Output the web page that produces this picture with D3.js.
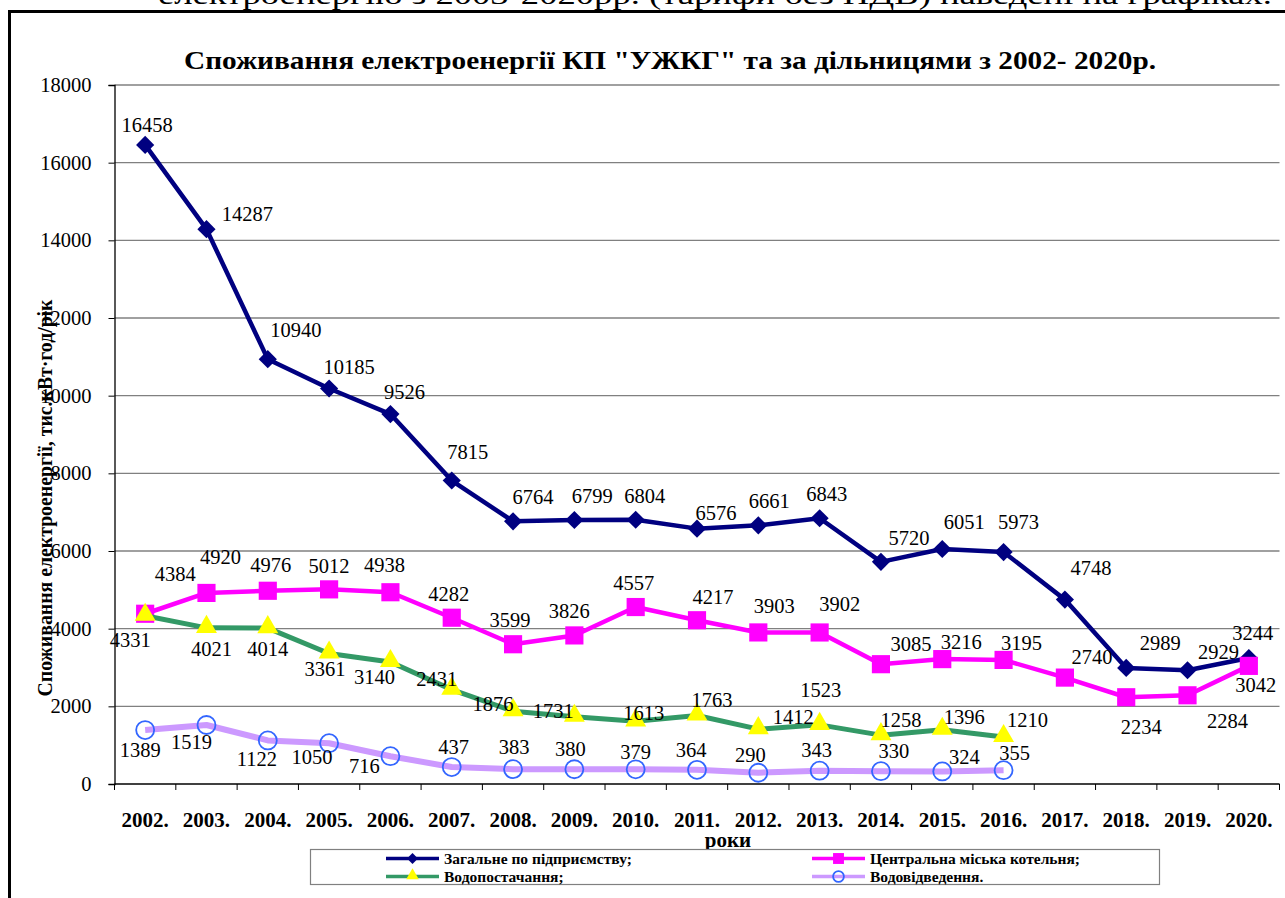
<!DOCTYPE html>
<html>
<head>
<meta charset="utf-8">
<script src="https://cdn.jsdelivr.net/npm/d3@7"></script>
<style>
  body { margin: 0; background: #fff; }
  svg { display: block; font-family: "Liberation Serif", "Times New Roman", serif; }
</style>
</head>
<body>
<svg id="chart"></svg>
<script>
//data
var years = ["2002.", "2003.", "2004.", "2005.", "2006.", "2007.", "2008.", "2009.", "2010.", "2011.",
             "2012.", "2013.", "2014.", "2015.", "2016.", "2017.", "2018.", "2019.", "2020."];
var totalValues  = [16458, 14287, 10940, 10185, 9526, 7815, 6764, 6799, 6804, 6576, 6661, 6843, 5720, 6051, 5973, 4748, 2989, 2929, 3244];
var boilerValues = [4384, 4920, 4976, 5012, 4938, 4282, 3599, 3826, 4557, 4217, 3903, 3902, 3085, 3216, 3195, 2740, 2234, 2284, 3042];
var waterValues  = [4331, 4021, 4014, 3361, 3140, 2431, 1876, 1731, 1613, 1763, 1412, 1523, 1258, 1396, 1210];
var sewerValues  = [1389, 1519, 1122, 1050, 716, 437, 383, 380, 379, 364, 290, 343, 330, 324, 355];
var yTicks = [0, 2000, 4000, 6000, 8000, 10000, 12000, 14000, 16000, 18000];
var seriesNames = ["Загальне по підприємству;", "Центральна міська котельня;", "Водопостачання;", "Водовідведення."];

var titleText = "Споживання електроенергії КП \"УЖКГ\" та за дільницями з 2002- 2020р.";
var yTitleText = "Споживання електроенергії, тис.кВт·год/рік";
var xTitleText = "роки";
var topLineText = "електроенергію з 2003-2020рр. (тарифи без ПДВ) наведені на графіках.";

//layout conf.
var svgWidth = 1285,
    svgHeight = 898,
    plot = {left: 114.5, right: 1279.5, top: 85, bottom: 784};

// where each value label sits, relative to its marker
var totalLabelOff  = [[2,-20],[41,-15],[28,-29],[20,-22],[14,-22],[16,-29],[20,-25],[18,-24],[9,-24],[19,-16],
                      [11,-25],[7,-24],[28,-24],[22,-27],[15,-30],[26,-32],[34,-25],[31,-18],[4,-25]];
var boilerLabelOff = [[30,-40],[14,-36],[3,-26],[0,-24],[-6,-27],[-3,-24],[-3,-24],[-5,-25],[-2,-24],[16,-23],
                      [16,-27],[20,-29],[30,-20],[19,-17],[18,-17],[27,-21],[15,30],[40,26],[7,19]];
var waterLabelOff  = [[-15,24],[5,21],[0,21],[-4,15],[-16,15],[-15,-11],[-20,-7],[-21,-6],[8,-9],[15,-16],
                      [35,-12],[1,-35],[20,-15],[22,-13],[24,-17]];
var sewerLabelOff  = [[-5,20],[-15,17],[-11,18],[-17,14],[-26,10],[2,-20],[1,-22],[-4,-20],[0,-17],[-6,-20],
                      [-8,-18],[-3,-21],[13,-20],[22,-15],[11,-17]];

var x = d3.scaleBand().domain(years).range([plot.left, plot.right]);
var y = d3.scaleLinear().domain([0, 18000]).range([plot.bottom, plot.top]);

var svg = d3.select("#chart")
    .attr("width", svgWidth)
    .attr("height", svgHeight);

// heading of the document above the chart, cut by the page edge
svg.append("text")
    .attr("x", 158).attr("y", 3.5)
    .attr("textLength", 1114).attr("lengthAdjust", "spacingAndGlyphs")
    .style("font-size", "28px")
    .text(topLineText);

// outer chart frame
svg.append("rect")
    .attr("x", 9.5).attr("y", 11.5)
    .attr("width", 1400).attr("height", 1000)
    .attr("fill", "none").attr("stroke", "#000").attr("stroke-width", 3);

// title
svg.append("text")
    .attr("x", 184).attr("y", 68.5)
    .attr("textLength", 972).attr("lengthAdjust", "spacingAndGlyphs")
    .style("font-size", "26px").style("font-weight", "bold")
    .text(titleText);

// grid
svg.append("g")
    .selectAll("line")
    .data(yTicks.filter(function(d){ return d > 0; }))
    .enter().append("line")
    .attr("x1", plot.left).attr("x2", plot.right)
    .attr("y1", function(d){ return y(d); }).attr("y2", function(d){ return y(d); })
    .attr("stroke", "#808080").attr("stroke-width", 1.3);

// y axis
var yAxis = svg.append("g")
    .attr("transform", "translate(" + plot.left + ",0)")
    .call(d3.axisLeft(y).tickValues(yTicks).tickSize(6).tickPadding(17).tickFormat(d3.format("d")));
yAxis.selectAll("text").style("font-size", "20.5px").style("font-family", "Liberation Serif").attr("fill", "#000");
yAxis.select(".domain").attr("stroke", "#000").attr("stroke-width", 1.3);

// x axis
var xAxis = svg.append("g")
    .attr("transform", "translate(0," + plot.bottom + ")");
xAxis.append("line")
    .attr("x1", plot.left).attr("x2", plot.right)
    .attr("stroke", "#000").attr("stroke-width", 1.5);
xAxis.selectAll(".tk")
    .data(years.concat(["end"]))
    .enter().append("line")
    .attr("class", "tk")
    .attr("x1", function(d){ return d == "end" ? plot.right : x(d); })
    .attr("x2", function(d){ return d == "end" ? plot.right : x(d); })
    .attr("y1", 0).attr("y2", 6)
    .attr("stroke", "#000");
xAxis.selectAll(".yl")
    .data(years)
    .enter().append("text")
    .attr("class", "yl")
    .attr("x", function(d){ return x(d) + x.bandwidth()/2; })
    .attr("y", 42.5)
    .attr("text-anchor", "middle")
    .style("font-size", "21px").style("font-weight", "bold")
    .text(function(d){ return d; });

svg.append("text")
    .attr("x", 728).attr("y", 847)
    .attr("text-anchor", "middle")
    .style("font-size", "21px").style("font-weight", "bold")
    .text(xTitleText);

svg.append("text")
    .attr("transform", "translate(52,498) rotate(-90)")
    .attr("text-anchor", "middle")
    .attr("textLength", 397).attr("lengthAdjust", "spacingAndGlyphs")
    .style("font-size", "21px").style("font-weight", "bold")
    .text(yTitleText);

// series
var series = [
  {name: seriesNames[0], values: totalValues,  off: totalLabelOff,  line: "#000080", width: 4.5, marker: "diamond"},
  {name: seriesNames[1], values: boilerValues, off: boilerLabelOff, line: "#ff00ff", width: 4.5, marker: "square"},
  {name: seriesNames[2], values: waterValues,  off: waterLabelOff,  line: "#339966", width: 5,   marker: "triangle"},
  {name: seriesNames[3], values: sewerValues,  off: sewerLabelOff,  line: "#cc99ff", width: 6,   marker: "circle"}
];

function px(i) { return x(years[i]) + x.bandwidth()/2; }

function drawMarker(g, kind, size) {
    var k = size || 1;
    if (kind == "diamond") {
        g.append("path").attr("d", d3.symbol(d3.symbolSquare, 165*k*k)())
         .attr("transform", "rotate(45)").attr("fill", "#000080");
    } else if (kind == "square") {
        g.append("path").attr("d", d3.symbol(d3.symbolSquare, 330*k*k)()).attr("fill", "#ff00ff");
    } else if (kind == "triangle") {
        g.append("path").attr("d", d3.symbol(d3.symbolTriangle, 190*k*k)())
         .attr("transform", "translate(0,-1)").attr("fill", "#ffff00");
    } else {
        g.append("circle").attr("r", 9*k).attr("fill", "none")
         .attr("stroke", "#3366ff").attr("stroke-width", 1.8);
    }
}

var line = d3.line()
    .x(function(d, i){ return px(i); })
    .y(function(d){ return y(d); });

var seriesG = svg.append("g");
series.forEach(function(s) {
    var g = seriesG.append("g");
    g.append("path")
        .attr("d", line(s.values))
        .attr("fill", "none")
        .attr("stroke", s.line)
        .attr("stroke-width", s.width)
        .attr("stroke-linejoin", "round");
    s.values.forEach(function(v, i) {
        var m = g.append("g").attr("transform", "translate(" + [px(i), y(v)] + ")");
        drawMarker(m, s.marker);
    });
});

// value labels on top
var labelG = svg.append("g");
series.forEach(function(s) {
    labelG.selectAll(null)
        .data(s.values)
        .enter().append("text")
        .attr("x", function(d, i){ return px(i) + s.off[i][0]; })
        .attr("y", function(d, i){ return y(d) + s.off[i][1]; })
        .attr("dy", "0.35em")
        .attr("text-anchor", "middle")
        .style("font-size", "20.5px")
        .text(function(d){ return d; });
});

// legend
var legend = svg.append("g");
legend.append("rect")
    .attr("x", 310.5).attr("y", 849.5)
    .attr("width", 849).attr("height", 35)
    .attr("fill", "#fff").attr("stroke", "#808080").attr("stroke-width", 1.2);

var legendPos = [[386, 858.5], [812, 858.5], [386, 876.5], [812, 876.5]];
series.forEach(function(s, i) {
    var it = legend.append("g").attr("transform", "translate(" + legendPos[i] + ")");
    it.append("line").attr("x1", 0).attr("x2", 53)
        .attr("stroke", s.line).attr("stroke-width", 3.5);
    drawMarker(it.append("g").attr("transform", "translate(26.5,0)"), s.marker, 0.6);
    it.append("text")
        .attr("x", 58).attr("dy", "0.35em")
        .style("font-size", "15.5px").style("font-weight", "bold")
        .text(s.name);
});
</script>
</body>
</html>
